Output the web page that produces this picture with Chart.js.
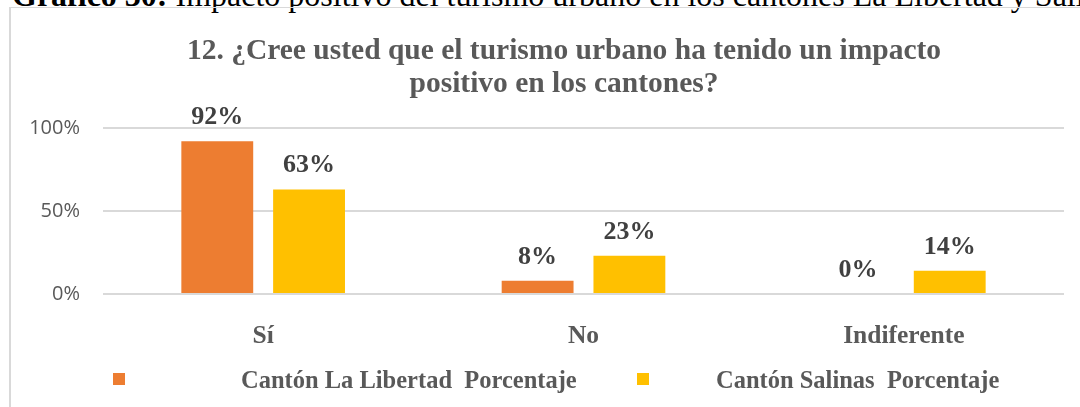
<!DOCTYPE html>
<html lang="es">
<head>
<meta charset="utf-8">
<title>Impacto positivo del turismo urbano</title>
<script src="https://cdn.jsdelivr.net/npm/chart.js@4.4.1/dist/chart.umd.min.js"></script>
<style>
  html, body { margin: 0; padding: 0; background: #fff; }
  body { width: 1080px; height: 407px; overflow: hidden; position: relative; }
  .caption { position: absolute; left: 12px; top: -21.5px; font: 32px/32px "Liberation Serif", serif; color: #000; white-space: nowrap; }
  .frame { position: absolute; left: 9px; top: 7px; width: 1200px; height: 500px; border-left: 2px solid #d9d9d9; border-top: 1px solid #d9d9d9; }
  #chart { position: absolute; left: 0; top: 0; }
</style>
</head>
<body>
<div class="caption"><b>Gráfico 30:</b> Impacto positivo del turismo urbano en los cantones La Libertad y Salinas</div>
<div class="frame"></div>
<canvas id="chart" width="1080" height="407"></canvas>
<script>
const categories = ['Sí', 'No', 'Indiferente'];
const libertadPct = [92, 8, 0];
const salinasPct = [63, 23, 14];
const seriesNames = ['Cantón La Libertad  Porcentaje', 'Cantón Salinas  Porcentaje'];
const yTicks = [0, 50, 100];
const titleLines = ['12. ¿Cree usted que el turismo urbano ha tenido un impacto', 'positivo en los cantones?'];

const grayText = '#595959';
const serif = '"Liberation Serif", "Times New Roman", serif';

// two-line heading, centred a little right of the canvas middle
const chartTitle = {
  id: 'chartTitle',
  afterDraw(chart, args, opts) {
    const ctx = chart.ctx;
    ctx.save();
    ctx.font = 'bold 29.5px ' + serif;
    ctx.fillStyle = grayText;
    ctx.textAlign = 'center';
    ctx.textBaseline = 'alphabetic';
    opts.lines.forEach((line, i) => ctx.fillText(line, opts.x, opts.y + i * opts.gap));
    ctx.restore();
  }
};

// value labels above each bar
const barLabels = {
  id: 'barLabels',
  afterDatasetsDraw(chart) {
    const ctx = chart.ctx;
    ctx.save();
    ctx.font = 'bold 26px ' + serif;
    ctx.fillStyle = '#404040';
    ctx.textAlign = 'center';
    ctx.textBaseline = 'alphabetic';
    chart.data.datasets.forEach((ds, i) => {
      chart.getDatasetMeta(i).data.forEach((bar, j) => {
        ctx.fillText(ds.data[j] + '%', bar.x, bar.y - 17);
      });
    });
    ctx.restore();
  }
};

// legend row along the bottom: small square, then the series name further right
const legendRow = {
  id: 'legendRow',
  afterDraw(chart, args, opts) {
    const ctx = chart.ctx;
    ctx.save();
    ctx.font = 'bold 24.5px ' + serif;
    ctx.textBaseline = 'alphabetic';
    ctx.textAlign = 'left';
    chart.data.datasets.forEach((ds, i) => {
      const item = opts.items[i];
      ctx.fillStyle = ds.backgroundColor;
      ctx.fillRect(item.box, opts.y - 6, 12, 12);
      ctx.fillStyle = grayText;
      ctx.fillText(ds.label, item.text, opts.y + 9);
    });
    ctx.restore();
  }
};

new Chart(document.getElementById('chart'), {
  type: 'bar',
  data: {
    labels: categories,
    datasets: [
      { label: seriesNames[0], data: libertadPct, backgroundColor: '#ED7D31' },
      { label: seriesNames[1], data: salinasPct, backgroundColor: '#FFC000' }
    ]
  },
  options: {
    responsive: false,
    animation: false,
    categoryPercentage: 0.573,
    barPercentage: 0.783,
    layout: { padding: { left: 20, right: 16, top: 128, bottom: 0 } },
    plugins: {
      legend: { display: false },
      tooltip: { enabled: false },
      title: { display: false },
      chartTitle: { lines: titleLines, x: 564, y: 59, gap: 33 },
      legendRow: { y: 379, items: [{ box: 113, text: 241 }, { box: 637, text: 716 }] }
    },
    scales: {
      x: {
        grid: { display: false },
        border: { display: false },
        ticks: { color: grayText, font: { family: serif, size: 25.5, weight: 'bold' }, padding: 19 },
        afterFit(scale) { scale.height = 113; }
      },
      y: {
        min: 0,
        max: 100,
        afterBuildTicks(scale) { scale.ticks = yTicks.map(v => ({ value: v })); },
        grid: { color: '#d9d9d9', lineWidth: 2, drawTicks: false },
        border: { display: false },
        ticks: {
          color: grayText,
          font: { family: '"Open Sans", sans-serif', size: 20 },
          padding: 23,
          callback: v => v + '%'
        },
        afterFit(scale) { scale.width = 83; }
      }
    }
  },
  plugins: [chartTitle, barLabels, legendRow]
});
</script>
</body>
</html>
